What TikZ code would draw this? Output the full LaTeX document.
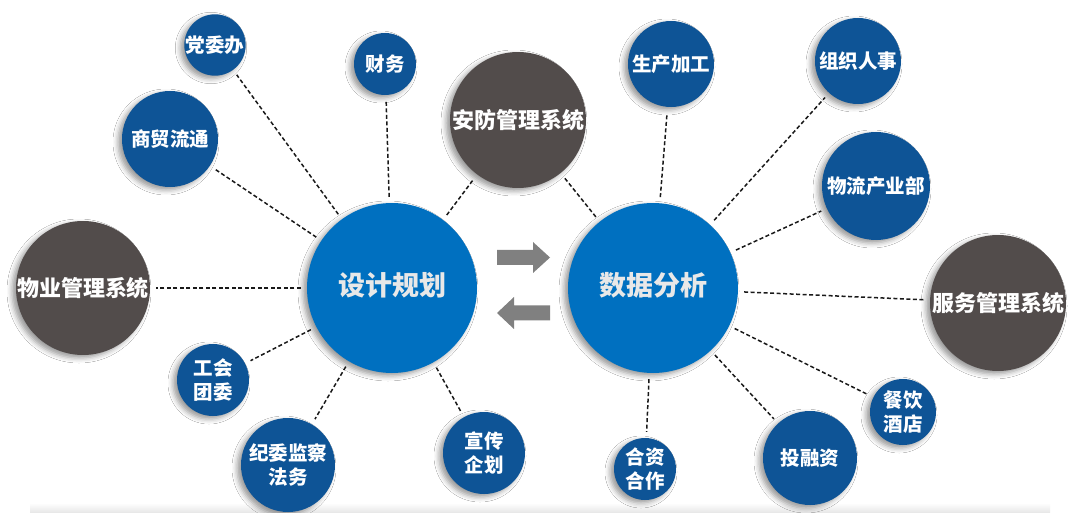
\documentclass[tikz,border=0pt]{standalone}
\usepackage{fontspec}
\setmainfont{Noto Sans CJK SC}
\usetikzlibrary{shadows.blur}
\definecolor{hubblue}{HTML}{0070C0}
\definecolor{hubtext}{HTML}{E8E8E8}
\definecolor{deptblue}{HTML}{0E5496}
\definecolor{sysgray}{HTML}{524C4B}
\definecolor{arrowgray}{HTML}{808080}
\begin{document}
\begin{tikzpicture}[x=1pt, y=-1pt,
    bubble/.style={circle, inner sep=0pt, text=white, align=center,
      blur shadow={shadow xshift=-4pt, shadow yshift=-3pt, shadow blur radius=5pt, shadow opacity=40}},
    hub/.style={bubble, fill=hubblue, text=hubtext, minimum size=170pt, text depth=9pt, font=\fontsize{27}{30}\selectfont\bfseries},
    sys/.style={bubble, fill=sysgray, font=\fontsize{22}{26}\selectfont\bfseries},
    dept/.style={bubble, fill=deptblue, font=\fontsize{19.5}{24}\selectfont\bfseries},
    link/.style={dash pattern=on 4pt off 2.5pt, line width=1.5pt, black!90, shorten <=6pt, shorten >=6pt}]
  \fill[white] (0,0) rectangle (1080,513);
  \useasboundingbox (0,0) rectangle (1080,513);
  \shade[top color=white, bottom color=black!10] (30,503) rectangle (1050,513);

  \node[hub] (plan) at (392,288) {设计规划};
  \node[hub] (data) at (653,288) {数据分析};

  \node[sys, minimum size=136pt] (security) at (518,120) {安防管理系统};
  \node[sys, minimum size=134pt] (property) at (83,288) {物业管理系统};
  \node[sys, minimum size=136pt] (service) at (998,303) {服务管理系统};

  \node[dept, minimum size=60pt] (party) at (215,45) {党委办};
  \node[dept, minimum size=62pt] (finance) at (385,64) {财务};
  \node[dept, minimum size=96pt] (trade) at (170,139) {商贸流通};
  \node[dept, minimum size=72pt] (union) at (213,380) {工会\\团委};
  \node[dept, minimum size=94pt] (discipline) at (288,465) {纪委监察\\法务};
  \node[dept, minimum size=82pt] (publicity) at (484,453) {宣传\\企划};

  \node[dept, minimum size=86pt] (production) at (671,64) {生产加工};
  \node[dept, minimum size=86pt] (personnel) at (858,61) {组织人事};
  \node[dept, minimum size=108pt] (logistics) at (876,186) {物流产业部};
  \node[dept, minimum size=66pt] (catering) at (903,412) {餐饮\\酒店};
  \node[dept, minimum size=94pt] (investment) at (810,458) {投融资};
  \node[dept, minimum size=62pt] (joint) at (645,469) {合资\\合作};

  \foreach \n in {party, finance, trade, security, property, union, discipline, publicity}
    \draw[link] (plan) -- (\n);
  \foreach \n in {security, production, personnel, logistics, service, catering, investment, joint}
    \draw[link] (data) -- (\n);

  \fill[arrowgray] (497,250) -- (533,250) -- (533,242) -- (550,257.5) -- (533,273) -- (533,265) -- (497,265) -- cycle;
  \fill[arrowgray] (550,305.5) -- (514,305.5) -- (514,297) -- (497,313) -- (514,329) -- (514,320.5) -- (550,320.5) -- cycle;
\end{tikzpicture}
\end{document}
